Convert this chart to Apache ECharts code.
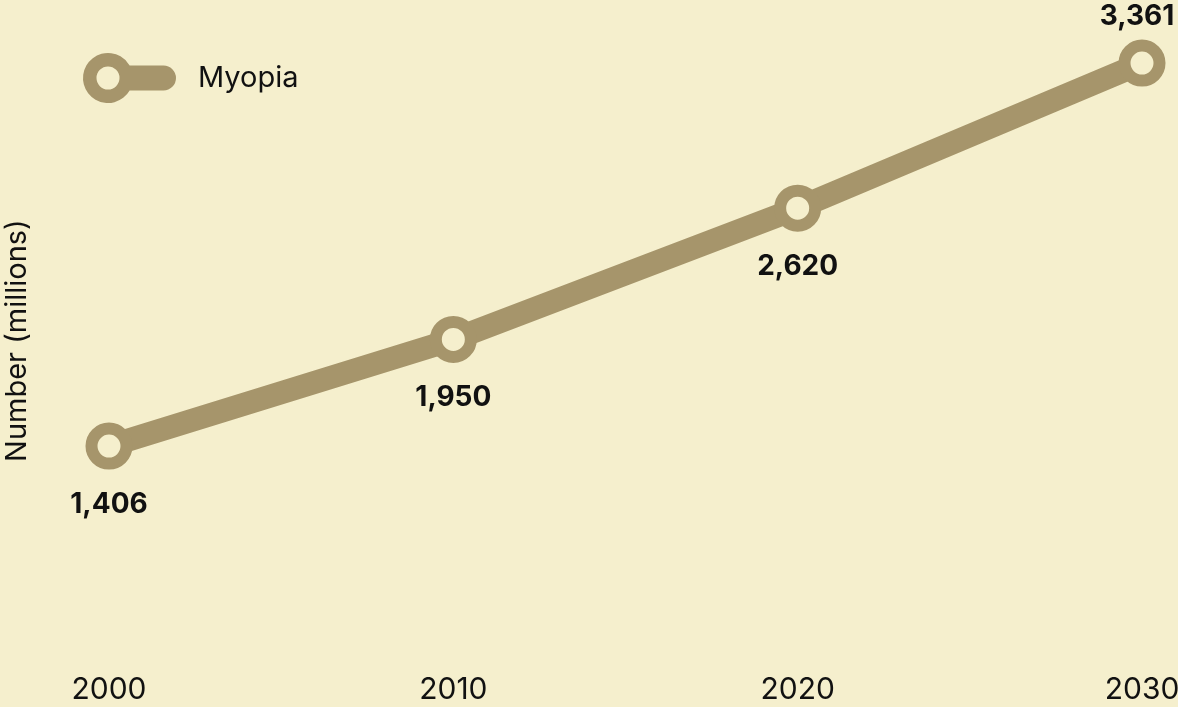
<!DOCTYPE html>
<html>
<head>
<meta charset="utf-8">
<script src="https://cdn.jsdelivr.net/npm/echarts@6/dist/echarts.min.js"></script>
<style>
  html, body { margin: 0; padding: 0; background: #f5efcd; }
  #chart { width: 1178px; height: 707px; }
</style>
</head>
<body>
<div id="chart"></div>
<script>
var years = ['2000', '2010', '2020', '2030']
var myopia = [1406, 1950, 2620, 3361]
var seriesName = 'Myopia'
var axisTitle = 'Number (millions)'

var lineColor = '#a6956b'
var bgColor = '#f5efcd'
var font = 'Inter'

// legend icon: ring with a rounded bar to the right
var legendPath = 'path://M46.65 12.5 L80.5 12.5 A12.5 12.5 0 0 1 80.5 37.5 L46.65 37.5 A25 25 0 1 1 46.65 12.5 Z ' +
  'M36.5 25 A11.5 11.5 0 1 0 13.5 25 A11.5 11.5 0 1 0 36.5 25 Z'

var chart = echarts.init(document.getElementById('chart'))

chart.setOption({
  backgroundColor: bgColor,
  animation: false,
  textStyle: { fontFamily: font },
  legend: {
    left: 83,
    top: 53,
    padding: 0,
    icon: legendPath,
    itemWidth: 93,
    itemHeight: 50,
    itemStyle: { color: lineColor, borderWidth: 0 },
    textStyle: {
      color: '#111',
      fontSize: 29,
      fontFamily: font,
      padding: [0, 0, 8, 17]
    },
    data: [seriesName]
  },
  grid: {
    left: 109,
    right: 36,
    top: 35.8,
    bottom: 83.5,
    outerBoundsMode: 'none',
    containLabel: false
  },
  xAxis: {
    type: 'category',
    boundaryGap: false,
    data: years,
    axisLine: { show: false },
    axisTick: { show: false },
    splitLine: { show: false },
    axisLabel: {
      color: '#111',
      fontSize: 30,
      fontFamily: font,
      margin: 51
    }
  },
  yAxis: {
    type: 'value',
    min: 500,
    max: 3500,
    name: axisTitle,
    nameLocation: 'middle',
    nameGap: 77,
    nameTextStyle: {
      color: '#111',
      fontSize: 29,
      fontFamily: font,
      padding: [0, 22, 0, 0]
    },
    axisLine: { show: false },
    axisTick: { show: false },
    axisLabel: { show: false },
    splitLine: { show: false }
  },
  series: [
    {
      name: seriesName,
      type: 'line',
      data: myopia.map(function (v, i) {
        var item = { value: v }
        if (i === myopia.length - 1) {
          item.label = { position: 'top', distance: 9, offset: [-5, 0] }
        }
        return item
      }),
      symbol: 'circle',
      symbolSize: 35,
      lineStyle: { color: lineColor, width: 23 },
      itemStyle: {
        color: bgColor,
        borderColor: lineColor,
        borderWidth: 12
      },
      label: {
        show: true,
        position: 'bottom',
        distance: 21,
        color: '#111',
        fontSize: 28,
        fontWeight: 'bold',
        fontFamily: font,
        formatter: function (p) {
          return p.value.toLocaleString('en-US')
        }
      },
      z: 3
    }
  ]
})
</script>
</body>
</html>
